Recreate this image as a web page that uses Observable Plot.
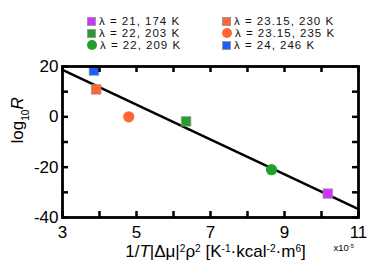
<!DOCTYPE html>
<html><head><meta charset="utf-8">
<script src="https://cdn.jsdelivr.net/npm/d3@7"></script>
<script src="https://cdn.jsdelivr.net/npm/@observablehq/plot@0.6"></script>
<style>
body{margin:0;background:#fff;font-family:"Liberation Sans",Arial,sans-serif;}
#wrap{position:relative;width:374px;height:280px;overflow:hidden;background:#fff;}
#legend{position:relative;height:56px;}
.li{position:absolute;font-size:11.5px;line-height:12px;height:12px;letter-spacing:1px;white-space:nowrap;color:#111;}
.mk{display:inline-block;width:9px;height:9px;box-sizing:border-box;border:1px solid #999;vertical-align:-1px;margin-right:3px;}
.mk.c{border-radius:50%;width:10px;height:10px;border:none;}
</style></head>
<body><div id="wrap"><div id="legend"></div></div>
<script>
const labels = ["λ = 21, 174 K", "λ = 22, 203 K", "λ = 22, 209 K", "λ = 23.15, 230 K", "λ = 23.15, 235 K", "λ = 24, 246 K"];
const xs = [10.17, 6.34, 8.65, 3.91, 4.79, 3.85];
const ys = [-30.5, -1.8, -21, 10.9, 0, 18.4];
const shapes = ["square", "square", "circle", "square", "circle", "square"];
const colors = ["#cc33ff", "#22a02a", "#22a02a", "#ff6633", "#ff6633", "#1a5cff"];
const fitX = [3, 11];
const fitY = [18.7, -36.7];
const xDomain = [3, 11];
const yDomain = [-40, 20];
const xTicks = [3, 4, 5, 6, 7, 8, 9, 10, 11];
const xTickLabels = [3, 5, 7, 9, 11];
const yTicks = [-40, -30, -20, -10, 0, 10, 20];
const yTickLabels = [-40, -20, 0, 20];

const pts = labels.map((l, i) => ({label: l, x: xs[i], y: ys[i], shape: shapes[i], color: colors[i]}));
const fit = fitX.map((x, i) => ({x, y: fitY[i]}));

const legend = document.getElementById("legend");
const legPos = [[87, 15], [87, 27], [87, 39], [222, 15], [222, 27], [222, 39]];
pts.forEach((p, i) => {
  const d = document.createElement("div");
  d.className = "li";
  d.style.left = legPos[i][0] + "px";
  d.style.top = legPos[i][1] + "px";
  const m = document.createElement("span");
  m.className = "mk" + (p.shape === "circle" ? " c" : "");
  m.style.background = p.color;
  d.appendChild(m);
  d.appendChild(document.createTextNode(p.label));
  legend.appendChild(d);
});

const fmt = d => String(d);
const W = 374, H = 224, mL = 62, mR = 16, mT = 10, mB = 63;
const [x0, x1] = xDomain, [y0, y1] = yDomain;
// inward tick length of 6px expressed in data units
const ty = (y1 - y0) * 6 / (H - mT - mB);
const tx = (x1 - x0) * 6 / (W - mL - mR);
const tk = {stroke: "#000", strokeWidth: 2.5};

const chart = Plot.plot({
  width: W, height: H,
  marginLeft: mL, marginRight: mR, marginTop: mT, marginBottom: mB,
  x: {domain: xDomain},
  y: {domain: yDomain},
  style: {fontFamily: "'Liberation Sans', Arial, sans-serif"},
  marks: [
    Plot.line(fit, {x: "x", y: "y", stroke: "#000", strokeWidth: 2.5}),
    Plot.dot(pts.filter(d => d.shape === "square"), {x: "x", y: "y", symbol: "square", fill: "color", stroke: "#999", strokeWidth: 0.7, r: 5.4}),
    Plot.dot(pts.filter(d => d.shape === "circle"), {x: "x", y: "y", symbol: "circle", fill: "color", r: 5.6}),
    Plot.axisX({anchor: "bottom", ticks: xTickLabels, tickFormat: fmt, tickSize: 0, tickPadding: 8, fontSize: 17, label: null}),
    Plot.axisY({anchor: "left", ticks: yTickLabels, tickFormat: fmt, tickSize: 0, tickPadding: 4, fontSize: 17, label: null}),
    Plot.text(["XTITLE"], {frameAnchor: "bottom", dx: 5, dy: 39, fontSize: 17, text: d => d}),
    Plot.text(["YTITLE"], {frameAnchor: "left", dx: -45, dy: 1.5, rotate: -90, fontSize: 17, text: d => d}),
    Plot.text(["XS"], {frameAnchor: "bottom-right", dx: -25, dy: 33, fontSize: 9.5, textAnchor: "start", text: d => d}),
    Plot.frame({stroke: "#000", strokeWidth: 2.8}),
    Plot.ruleX(xTicks, {x: d => d, y1: y0, y2: y0 + ty, ...tk}),
    Plot.ruleX(xTicks, {x: d => d, y1: y1 - ty, y2: y1, ...tk}),
    Plot.ruleY(yTicks, {y: d => d, x1: x0, x2: x0 + tx, ...tk}),
    Plot.ruleY(yTicks, {y: d => d, x1: x1 - tx, x2: x1, ...tk})
  ]
});
document.getElementById("wrap").appendChild(chart);

const svg = d3.select(chart);
function rich(key, parts) {
  svg.selectAll("text").filter(function() { return this.textContent === key; }).each(function() {
    const el = d3.select(this);
    const tgt = el.selectAll("tspan").empty() ? el : el.select("tspan");
    tgt.text(null);
    parts.forEach(([s, style]) => {
      const ts = tgt.append("tspan").text(s);
      if (style === "i") ts.attr("font-style", "italic");
      if (style === "sup") ts.attr("font-size", "0.6em").attr("baseline-shift", "super");
      if (style === "sub") ts.attr("font-size", "0.6em").attr("baseline-shift", "sub");
    });
  });
}
rich("XTITLE", [["1/"], ["T", "i"], ["|Δμ|"], ["2", "sup"], ["ρ"], ["2", "sup"], [" [K"], ["-1", "sup"], ["·kcal"], ["-2", "sup"], ["·m"], ["6", "sup"], ["]"]]);
rich("YTITLE", [["log"], ["10", "sub"], ["R", "i"]]);
rich("XS", [["x10"], ["-5", "sup"]]);
</script>
</body></html>
